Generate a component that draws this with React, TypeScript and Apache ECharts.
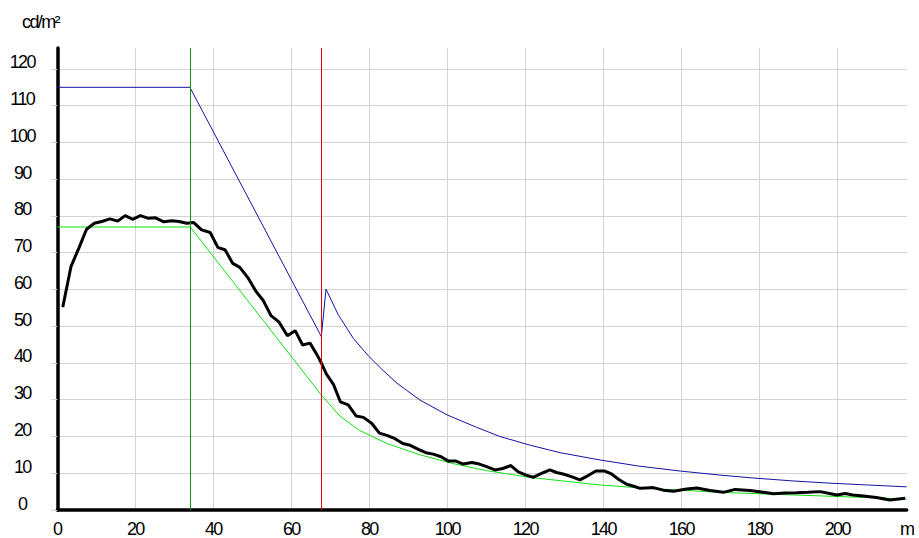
import React, { useEffect, useRef } from "react";
import * as echarts from "echarts";

const X_MAX = 217.8;
const Y_MAX = 125.7;
const X_UNIT = "m";
const Y_UNIT = "cd/m²";

// vertical marker positions (m)
const markerGreenX = 34.1;
const markerRedX = 67.7;

// blue curve [m, cd/m²]
const blueCurve: [number, number][] = [
  [0, 115], [34, 115], [67.7, 47.2], [68.9, 60.1], [72, 53.2], [75.9, 46.7],
  [79.8, 41.9], [83.5, 38], [87.1, 34.5], [93, 29.9], [99.9, 25.9], [107.5, 22.5],
  [113.5, 20.0], [121, 17.7], [128.9, 15.6], [139.2, 13.6], [149.4, 11.9],
  [159.7, 10.6], [169.9, 9.5], [178.5, 8.7], [188.7, 7.9], [198.1, 7.3],
  [208, 6.8], [217.8, 6.3],
];

// green curve
const greenCurve: [number, number][] = [
  [0, 77], [34.1, 77], [67.7, 31.3], [72.5, 25.5], [77.6, 21.6], [84.5, 18.1],
  [93, 15], [101.6, 12.6], [110.1, 10.7], [121, 8.9], [139.2, 6.8], [151, 5.9],
  [159.7, 5.4], [169.9, 4.8], [188.7, 4.1], [217.8, 3.0],
];

// black measured curve
const blackCurve: [number, number][] = [
  [1.4, 55.2], [3.5, 66.2], [5.5, 71.2], [7.5, 76.4], [9.5, 78.0], [11.4, 78.5],
  [13.5, 79.2], [15.5, 78.6], [17.4, 80.1], [19.3, 79.1], [21.3, 80.1], [23.2, 79.4],
  [25.2, 79.5], [27.3, 78.4], [29.3, 78.7], [31.2, 78.5], [33.2, 78.0], [35.0, 78.2],
  [37.0, 76.2], [39.2, 75.5], [41.2, 71.4], [43.0, 70.8], [45.0, 67.1], [46.8, 66.0],
  [49.0, 63.0], [51.0, 59.4], [52.8, 57.0], [54.8, 52.9], [56.8, 51.2], [59.0, 47.4],
  [61.0, 48.8], [62.9, 44.9], [64.8, 45.4], [66.5, 42.4], [67.7, 40.0], [69.0, 37.0],
  [70.8, 34.2], [72.6, 29.4], [74.6, 28.6], [76.6, 25.6], [78.5, 25.2], [80.6, 23.6],
  [82.6, 20.9], [84.5, 20.3], [86.6, 19.4], [88.6, 18.1], [90.5, 17.6], [92.6, 16.5],
  [94.5, 15.6], [96.4, 15.2], [98.4, 14.5], [100.3, 13.3], [102.2, 13.3], [104.1, 12.5],
  [106.3, 12.9], [108.2, 12.5], [110.1, 11.8], [112.2, 10.9], [114.2, 11.3], [116.3, 12.1],
  [118.2, 10.4], [120.2, 9.5], [122.0, 8.9], [124.0, 9.9], [126.3, 10.9], [128.0, 10.2],
  [129.7, 9.8], [132, 9.0], [134, 8.2], [136, 9.3], [138.1, 10.6], [140.4, 10.6],
  [142.1, 9.8], [144, 8.3], [146, 7.0], [148, 6.4], [149.4, 5.9], [151, 6.0],
  [152.8, 6.1], [155.4, 5.4], [158, 5.1], [161.4, 5.7], [164, 6.0], [167.4, 5.3],
  [170.8, 4.8], [173.8, 5.6], [177.6, 5.3], [180.5, 4.9], [183.6, 4.4], [186.5, 4.6],
  [189.6, 4.7], [192.5, 4.8], [195.6, 5.0], [198, 4.5], [199.9, 4.1], [202, 4.5],
  [204, 4.1], [206.7, 3.8], [210, 3.4], [213.5, 2.7], [217.4, 3.2],
];

const FONT = "'Liberation Sans', Arial, sans-serif";

export default function App() {
  const ref = useRef<HTMLDivElement>(null);
  useEffect(() => {
    if (!ref.current) return;
    const chart = echarts.init(ref.current, undefined, { renderer: "svg" });
    chart.setOption({
      animation: false,
      backgroundColor: "#ffffff",
      grid: { left: 57.3, right: 12.3, top: 48, bottom: 28, containLabel: false },
      graphic: [
        {
          type: "text",
          left: 22,
          top: 13,
          style: { text: Y_UNIT, fontSize: 18, fontFamily: FONT, fill: "#000" },
        },
      ],
      xAxis: {
        type: "value",
        min: 0,
        max: X_MAX,
        interval: 20,
        axisLine: { show: true, onZero: false, lineStyle: { color: "#000", width: 3.5 } },
        axisTick: { show: false },
        splitLine: { show: true, showMaxLine: false, lineStyle: { color: "#d3d3d3", width: 1 } },
        axisLabel: {
          showMaxLabel: true,
          hideOverlap: false,
          color: "#000",
          fontSize: 18,
          fontFamily: FONT,
          margin: 10,
          formatter: (v: number) => (v >= X_MAX - 0.01 ? X_UNIT : String(v)),
        },
      },
      yAxis: {
        type: "value",
        min: 0,
        max: Y_MAX,
        interval: 10,
        axisLine: { show: true, onZero: false, lineStyle: { color: "#000", width: 3.5 } },
        axisTick: { show: true, length: 6, lineStyle: { color: "#d3d3d3", width: 1 } },
        splitLine: { show: true, showMaxLine: false, lineStyle: { color: "#d3d3d3", width: 1 } },
        axisLabel: {
          showMaxLabel: false,
          color: "#000",
          fontSize: 18,
          fontFamily: FONT,
          align: "center",
          verticalAlign: "bottom",
          lineHeight: 13,
          margin: 35,
        },
      },
      series: [
        {
          type: "line",
          data: [],
          silent: true,
          z: 1,
          markLine: {
            silent: true,
            symbol: ["none", "none"],
            label: { show: false },
            data: [
              { xAxis: markerGreenX, lineStyle: { color: "#119211", width: 1, type: "solid" } },
              { xAxis: markerRedX, lineStyle: { color: "#ee0000", width: 1, type: "solid" } },
            ],
          },
        },
        {
          type: "line",
          data: blueCurve,
          showSymbol: false,
          symbol: "none",
          z: 3,
          lineStyle: { color: "#1414a0", width: 1 },
        },
        {
          type: "line",
          data: greenCurve,
          showSymbol: false,
          symbol: "none",
          z: 3,
          lineStyle: { color: "#11e011", width: 1 },
        },
        {
          type: "line",
          data: blackCurve,
          showSymbol: false,
          symbol: "none",
          z: 4,
          lineStyle: { color: "#000000", width: 3 },
        },
      ],
    });
    return () => chart.dispose();
  }, []);
  return (
    <>
      <style>{`.lum-chart text { letter-spacing: -1.6px; }`}</style>
      <div
        ref={ref}
        className="lum-chart"
        style={{ position: "absolute", left: 0, top: 0, width: 919, height: 538 }}
      />
    </>
  );
}
